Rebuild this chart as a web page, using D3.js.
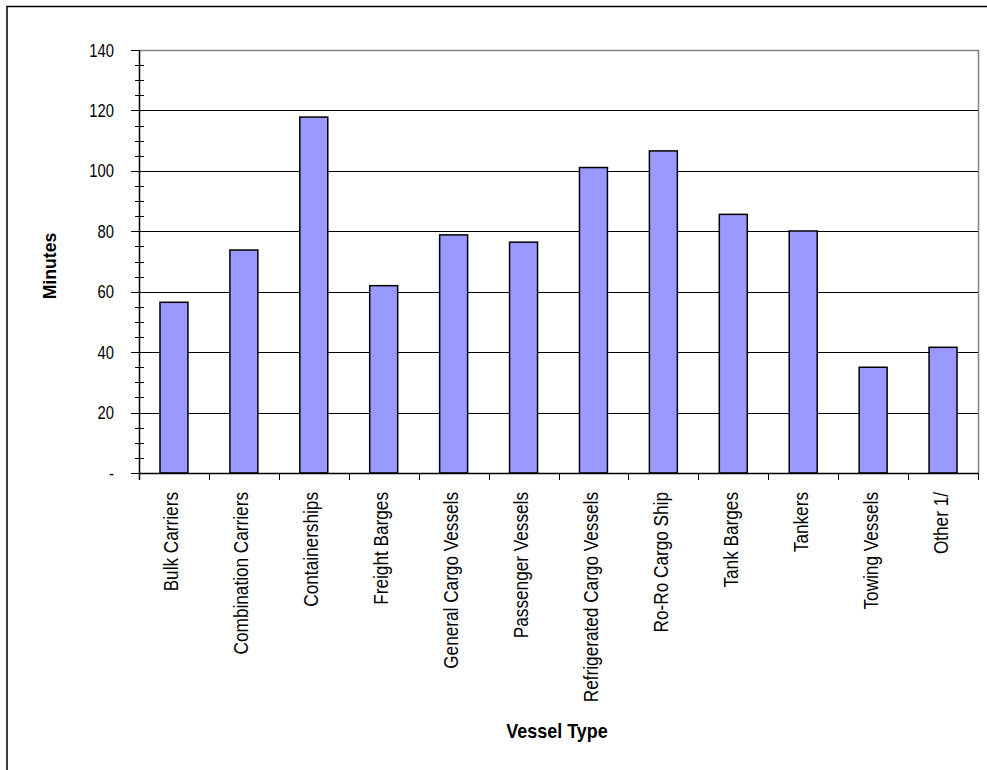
<!DOCTYPE html>
<html>
<head>
<meta charset="utf-8">
<script src="https://cdn.jsdelivr.net/npm/d3@7/dist/d3.min.js"></script>
<style>
  html, body { margin: 0; padding: 0; background: #fff; }
  svg { display: block; }
  text { font-family: "Liberation Sans", Arial, sans-serif; fill: #000; }
</style>
</head>
<body>
<svg id="chart" width="987" height="770"></svg>
<script>
// ---- data ----
const categories = [
  "Bulk Carriers", "Combination Carriers", "Containerships", "Freight Barges",
  "General Cargo Vessels", "Passenger Vessels", "Refrigerated Cargo Vessels",
  "Ro-Ro Cargo Ship", "Tank Barges", "Tankers", "Towing Vessels", "Other 1/"
];
const minutes = [56.5, 73.8, 117.8, 62.0, 78.8, 76.4, 101.1, 106.6, 85.6, 80.1, 35.0, 41.6];
const yTicks = [0, 20, 40, 60, 80, 100, 120, 140];
const yTickLabels = ["-", "20", "40", "60", "80", "100", "120", "140"];
const xTitle = "Vessel Type";
const yTitle = "Minutes";

// ---- layout ----
const svg = d3.select("#chart");
const pLeft = 139, pRight = 978, pTop = 50, pBottom = 473;

const x = d3.scaleBand().domain(categories).range([pLeft, pRight])
  .paddingInner(0.6).paddingOuter(0.3);
const y = d3.scaleLinear().domain([0, 140]).range([pBottom, pTop]);

// outer frame (extends past right and bottom edges)
svg.append("rect").attr("x", 7).attr("y", 6.5).attr("width", 990).attr("height", 800)
  .attr("fill", "none").attr("stroke", "#000").attr("stroke-width", 1.5);

// plot area border (top and right, gray)
svg.append("path")
  .attr("d", `M${pLeft},${pTop + 0.5}H${pRight + 0.5}V${pBottom}`)
  .attr("fill", "none").attr("stroke", "#808080").attr("stroke-width", 1.5);

// gridlines
svg.append("g").selectAll("line").data(yTicks.filter(d => d > 0 && d < 140)).join("line")
  .attr("x1", pLeft).attr("x2", pRight)
  .attr("y1", d => Math.round(y(d)) + 0.5).attr("y2", d => Math.round(y(d)) + 0.5)
  .attr("stroke", "#000").attr("stroke-width", 1);

// bars
svg.append("g").selectAll("rect").data(minutes).join("rect")
  .attr("x", (d, i) => x(categories[i]))
  .attr("y", d => y(d))
  .attr("width", x.bandwidth())
  .attr("height", d => y(0) - y(d))
  .attr("fill", "#9999FF").attr("stroke", "#000").attr("stroke-width", 1.5);

// y axis line
svg.append("line").attr("x1", pLeft + 0.5).attr("x2", pLeft + 0.5)
  .attr("y1", pTop).attr("y2", pBottom + 7)
  .attr("stroke", "#000").attr("stroke-width", 1.5);

// y minor ticks (every 5)
const minor = d3.range(0, 141, 5).filter(v => v % 20 !== 0);
svg.append("g").selectAll("line").data(minor).join("line")
  .attr("x1", pLeft - 4).attr("x2", pLeft + 5)
  .attr("y1", d => Math.round(y(d)) + 0.5).attr("y2", d => Math.round(y(d)) + 0.5)
  .attr("stroke", "#000").attr("stroke-width", 1);
// y major ticks
svg.append("g").selectAll("line").data(yTicks).join("line")
  .attr("x1", pLeft - 8).attr("x2", pLeft)
  .attr("y1", d => Math.round(y(d)) + 0.5).attr("y2", d => Math.round(y(d)) + 0.5)
  .attr("stroke", "#000").attr("stroke-width", 1);

// y tick labels
svg.append("g").selectAll("text").data(yTicks).join("text")
  .attr("transform", d => `translate(114,${y(d) + 6.5}) scale(0.8,1)`)
  .attr("text-anchor", "end")
  .style("font-size", "18.5px")
  .text((d, i) => yTickLabels[i]);

// x axis line
svg.append("line").attr("x1", pLeft).attr("x2", pRight + 0.5)
  .attr("y1", pBottom + 0.5).attr("y2", pBottom + 0.5)
  .attr("stroke", "#000").attr("stroke-width", 1.5);

// x ticks at band boundaries
const boundaries = d3.range(categories.length + 1).map(i => pLeft + i * (pRight - pLeft) / categories.length);
svg.append("g").selectAll("line").data(boundaries).join("line")
  .attr("x1", d => Math.round(d) + 0.5).attr("x2", d => Math.round(d) + 0.5)
  .attr("y1", pBottom).attr("y2", pBottom + 7)
  .attr("stroke", "#000").attr("stroke-width", 1);

// category labels
svg.append("g").selectAll("text").data(categories).join("text")
  .attr("transform", d => `translate(${x(d) + x.bandwidth() / 2 + 4.5},492) rotate(-90) scale(0.86,1)`)
  .attr("text-anchor", "end")
  .style("font-size", "20px")
  .text(d => d);

// axis titles
svg.append("text")
  .attr("transform", `translate(557,738) scale(0.92,1)`)
  .attr("text-anchor", "middle")
  .style("font-size", "19.5px").style("font-weight", "bold")
  .text(xTitle);

svg.append("text")
  .attr("transform", `translate(56,266) rotate(-90) scale(0.93,1)`)
  .attr("text-anchor", "middle")
  .style("font-size", "19px").style("font-weight", "bold")
  .text(yTitle);
</script>
</body>
</html>
